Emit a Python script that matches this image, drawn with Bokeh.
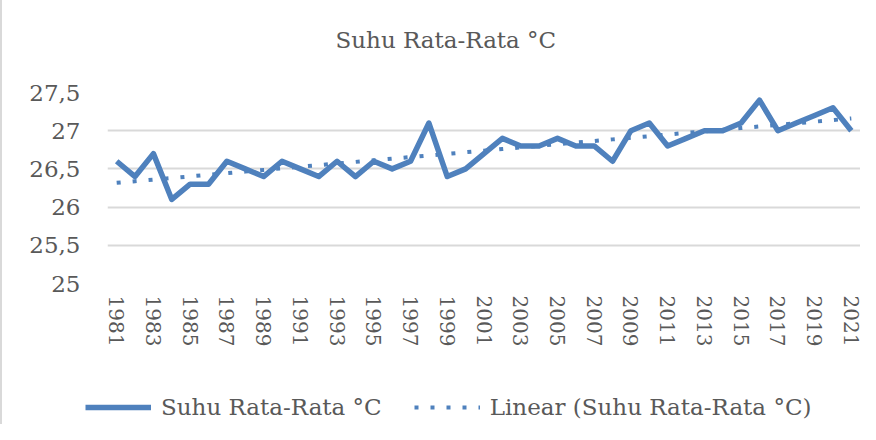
import numpy as np
from bokeh.plotting import figure
from bokeh.layouts import column
from bokeh.models import Range1d, FixedTicker, Legend, LegendItem, ColumnDataSource
from bokeh.embed import file_html
from bokeh.resources import INLINE

# ---- data ----
title_text = "Suhu Rata-Rata °C"
series_name = "Suhu Rata-Rata °C"
trend_name = "Linear (Suhu Rata-Rata °C)"
years = list(range(1981, 2022))
suhu = [26.6, 26.4, 26.7, 26.1, 26.3, 26.3, 26.6, 26.5, 26.4, 26.6,
        26.5, 26.4, 26.6, 26.4, 26.6, 26.5, 26.6, 27.1, 26.4, 26.5,
        26.7, 26.9, 26.8, 26.8, 26.9, 26.8, 26.8, 26.6, 27.0, 27.1,
        26.8, 26.9, 27.0, 27.0, 27.1, 27.4, 27.0, 27.1, 27.2, 27.3, 27.0]
x_tick_values = list(range(1981, 2022, 2))
x_tick_labels = [str(y) for y in x_tick_values]
y_tick_values = [25.0, 25.5, 26.0, 26.5, 27.0, 27.5]
y_tick_labels = ["25", "25,5", "26", "26,5", "27", "27,5"]

# linear trendline (least squares fit, as Excel's "Linear" trendline)
slope, intercept = np.polyfit(years, suhu, 1)
trend = [slope * y + intercept for y in years]

src = ColumnDataSource(dict(year=years, suhu=suhu, trend=trend))

FONT = "DejaVu Serif"
TXT = "#595959"
BLUE = "#4F81BD"
BORDER = {"border-left": "2px solid #D9D9D9"}

MAIN_STYLE = dict(line_color=BLUE, line_width=5.5, line_join="round")
TREND_STYLE = dict(line_color=BLUE, line_width=4, line_dash="4 12", line_cap="butt")

p = figure(width=860, height=380, output_backend="svg", toolbar_location=None,
           x_range=Range1d(1980.5, 2021.5), y_range=Range1d(25.0, 27.5),
           min_border_left=105, min_border_right=2, min_border_top=92,
           min_border_bottom=97, title=title_text)
p.outline_line_color = None
p.border_fill_color = "white"
p.styles = BORDER

p.title.align = "left"
p.title.offset = 228
p.title.padding = dict(left=0, right=0, top=0, bottom=35)
p.title.text_font = FONT
p.title.text_font_size = "23px"
p.title.text_font_style = "normal"
p.title.text_color = TXT

p.line("year", "trend", source=src, **TREND_STYLE)
p.line("year", "suhu", source=src, **MAIN_STYLE)

# axes
p.xaxis.ticker = FixedTicker(ticks=x_tick_values)
p.xaxis.major_label_overrides = dict(zip(x_tick_values, x_tick_labels))
p.xaxis.major_label_orientation = "vertical"
p.yaxis.ticker = FixedTicker(ticks=y_tick_values)
p.yaxis.major_label_overrides = dict(zip(y_tick_values, y_tick_labels))
for ax in (p.xaxis[0], p.yaxis[0]):
    ax.axis_line_color = None
    ax.major_tick_line_color = None
    ax.minor_tick_line_color = None
    ax.major_label_text_font = FONT
    ax.major_label_text_color = TXT
p.xaxis.major_label_text_font_size = "20px"
p.yaxis.major_label_text_font_size = "23px"
p.xaxis.major_label_standoff = 6
p.yaxis.major_label_standoff = 21

p.xgrid.grid_line_color = None
p.ygrid.grid_line_color = "#D9D9D9"
p.ygrid.grid_line_width = 2

# ---- legend strip (separate figure below the chart) ----
# The series are drawn again here only so the legend has renderers; the ranges
# keep them outside the visible strip.
lg = figure(width=860, height=44, output_backend="svg", toolbar_location=None,
            x_range=Range1d(0, 1), y_range=Range1d(0, 1),
            x_axis_location=None, y_axis_location=None,
            min_border_left=0, min_border_right=0, min_border_top=0,
            min_border_bottom=0)
lg.frame_align = False
lg.grid.visible = False
lg.outline_line_color = None
lg.border_fill_color = "white"
lg.styles = BORDER
lr_main = lg.line("year", "suhu", source=src, **MAIN_STYLE)
lr_trend = lg.line("year", "trend", source=src, **TREND_STYLE)

legend = Legend(items=[LegendItem(label=series_name, renderers=[lr_main]),
                       LegendItem(label=trend_name, renderers=[lr_trend])],
                orientation="horizontal", location=(83, 4),
                glyph_width=66, glyph_height=20, label_standoff=10, spacing=32,
                padding=0, margin=0, border_line_alpha=0, background_fill_alpha=0,
                label_text_font=FONT, label_text_font_size="23px",
                label_text_color=TXT)
lg.add_layout(legend)

page = column(p, lg, spacing=0)
open("out.html", "w").write(file_html(page, INLINE))
